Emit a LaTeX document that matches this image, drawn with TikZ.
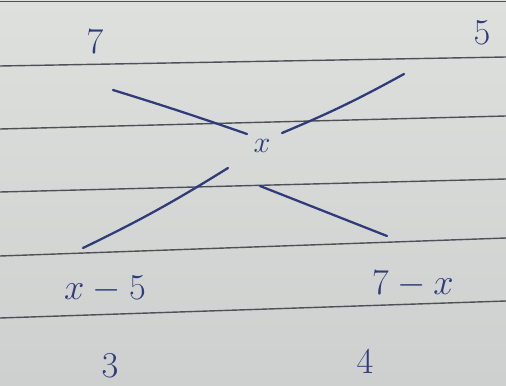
\documentclass[tikz,border=0pt]{standalone}
\usepackage{tikz}
\usetikzlibrary{positioning,calc}
\definecolor{paper}{RGB}{222,224,222}
\definecolor{paperB}{RGB}{206,208,207}
\definecolor{rule}{RGB}{78,82,88}
\definecolor{ink}{RGB}{48,60,122}

\begin{document}
\begin{tikzpicture}[x=0.02cm, y=-0.02cm,
    every node/.style={font=\fontsize{21}{24}\selectfont, text=ink, inner sep=1pt},
    num/.style={font=\fontsize{21}{24}\selectfont},
    mid/.style={font=\fontsize{16}{18}\selectfont},
    ruling/.style={draw=rule, line width=0.8pt},
    stroke/.style={draw=ink, line width=1.3pt, line cap=round}
]
  % --- Paper and ruled lines ---
  \useasboundingbox (0,0) rectangle (506,385);
  \shade[top color=paper, bottom color=paperB] (0,0) rectangle (506,385);
  \draw[ruling] (0,1.5) -- (506,1.5);
  \draw[ruling] (0,66)  -- (506,57);
  \draw[ruling] (0,129) -- (506,116);
  \draw[ruling] (0,192) -- (506,179);
  \draw[ruling] (0,256) -- (506,238);
  \draw[ruling] (0,318) -- (506,301);

  % --- Corner values and the mean ---
  \node[num] (topL) at (95,42)  {$7$};
  \node[num] (topR) at (482,33) {$5$};
  \node[mid] (mean) at (262,146) {$x$};
  \node[num] (botL) at (105,289) {$x-5$};
  \node[num] (botR) at (413,284) {$7-x$};
  \node[num] (ratL) at (110,366) {$3$};
  \node[num] (ratR) at (365,362) {$4$};

  % --- Stroke ends of the cross ---
  \coordinate (aIn)  at (113,90);
  \coordinate (aOut) at (247,134);
  \coordinate (bIn)  at (282,133);
  \coordinate (bOut) at (404,74);
  \coordinate (cIn)  at (83,248);
  \coordinate (cOut) at (228,168);
  \coordinate (dIn)  at (260,186);
  \coordinate (dOut) at (387,236);

  % --- The cross ---
  \draw[stroke] (aIn) to[bend left=1] (aOut);
  \draw[stroke] (bIn) to[bend right=3] (bOut);
  \draw[stroke] (cIn) to[bend right=3] (cOut);
  \draw[stroke] (dIn) -- (dOut);
\end{tikzpicture}
\end{document}
